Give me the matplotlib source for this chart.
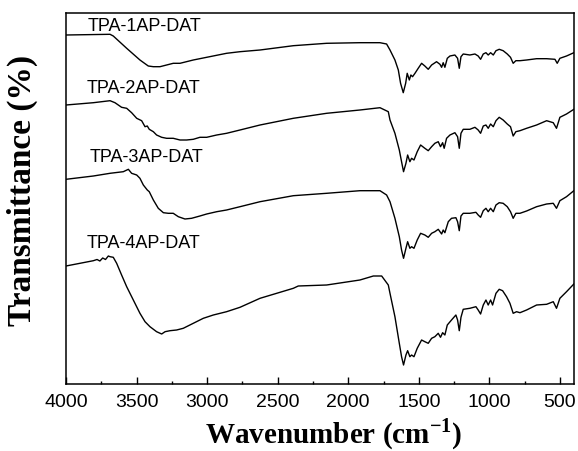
import matplotlib
matplotlib.use("Agg")
import matplotlib.pyplot as plt
from matplotlib.ticker import MultipleLocator

# ---------------- data ----------------
labels = ["TPA-1AP-DAT", "TPA-2AP-DAT", "TPA-3AP-DAT", "TPA-4AP-DAT"]

wn1 = [4000, 3688, 3665, 3570, 3476, 3417, 3381, 3334, 3287, 3240, 3192, 3098, 3003, 2862,
       2767, 2625, 2389, 2153, 1917, 1775, 1728, 1704, 1669, 1645, 1629, 1610, 1593, 1582,
       1567, 1556, 1544, 1527, 1504, 1480, 1457, 1433, 1409, 1374, 1350, 1338, 1327, 1315,
       1298, 1279, 1244, 1225, 1213, 1201, 1185, 1138, 1102, 1079, 1062, 1043, 1024, 1008,
       991, 972, 953, 930, 902, 873, 850, 831, 812, 783, 736, 665, 594, 535, 519, 500, 453, 401]
t1 = [349, 349.7, 348, 335.7, 324, 318, 317.3, 317.3, 319, 320.7, 320.7, 324, 326.7, 330.7,
      332.3, 334, 338.3, 340.7, 341.3, 341.3, 340, 334, 324, 314, 300.7, 291.3, 300.7, 310.7,
      304, 309, 307.3, 310.7, 315.7, 320.7, 318, 314.7, 319, 322.3, 319.7, 316.7, 321.3, 316.7,
      325.7, 328, 329, 325.7, 315.7, 327.3, 330, 329, 330, 328, 324.7, 330, 331.3, 329,
      331.3, 329, 333.3, 334.7, 333.3, 330, 326.7, 320.7, 323.3, 323.3, 324, 325.3, 325.3, 324.7,
      320.7, 325.7, 328, 331.3]

wn2 = [4000, 3806, 3688, 3653, 3606, 3570, 3535, 3499, 3464, 3440, 3424, 3410, 3381, 3358,
       3322, 3287, 3240, 3192, 3145, 3098, 3051, 3003, 2932, 2862, 2767, 2625, 2389, 2153,
       1917, 1775, 1716, 1704, 1669, 1638, 1622, 1608, 1591, 1579, 1563, 1551, 1534, 1511,
       1487, 1457, 1433, 1409, 1386, 1362, 1346, 1331, 1320, 1303, 1279, 1244, 1225, 1213,
       1201, 1185, 1138, 1102, 1079, 1062, 1043, 1024, 1008, 991, 972, 953, 930, 902, 873,
       850, 831, 812, 783, 736, 665, 594, 547, 524, 500, 453, 401]
t2 = [279, 281.3, 283.3, 281.3, 276.7, 275.7, 271.3, 265.7, 263.3, 257.3, 258, 254.7, 252.3, 249,
      246.7, 245.7, 245.7, 244, 244, 244.7, 246.7, 246.7, 249, 250.7, 254, 259, 265.7, 270.7,
      274, 276.3, 272.3, 264, 250.7, 234, 222.3, 212.3, 220.7, 229, 222.3, 225.7, 224, 232.3,
      239, 235.7, 233.3, 237.3, 240.7, 242.3, 237.3, 241.3, 235.7, 245.7, 249, 251.3, 247.3, 235.7,
      250.7, 254.7, 254.7, 256.7, 254, 250.7, 258, 259, 255.7, 260, 257.3, 263.3, 266.7, 264, 260,
      257.3, 248, 252.3, 253.3, 255.7, 259, 263.3, 261.3, 255.7, 266.7, 270, 274.7]

wn3 = [4000, 3806, 3688, 3653, 3594, 3558, 3535, 3499, 3476, 3452, 3424, 3410, 3381, 3346,
       3310, 3275, 3240, 3204, 3157, 3110, 3051, 3003, 2932, 2862, 2767, 2625, 2389, 2153,
       1917, 1775, 1728, 1704, 1669, 1638, 1622, 1608, 1591, 1579, 1563, 1551, 1534, 1511,
       1487, 1457, 1433, 1409, 1386, 1362, 1338, 1327, 1315, 1291, 1268, 1237, 1225, 1213,
       1201, 1185, 1138, 1095, 1079, 1062, 1043, 1024, 1008, 991, 972, 953, 930, 902, 873,
       850, 831, 812, 783, 736, 665, 594, 547, 524, 500, 453, 401]
t3 = [204.7, 208, 210.7, 211.3, 212.3, 214.7, 210.7, 209, 205.7, 199, 194, 192.3, 184, 175.7,
      171.3, 170.7, 170.7, 167.3, 165, 165.7, 168, 170, 172.3, 174, 177.3, 182.3, 188.3, 190.7,
      193.3, 193.3, 189, 182.3, 165.7, 147.3, 134, 125.7, 135.7, 142.3, 135.7, 137.3, 135.7, 144,
      150.7, 149, 146.7, 150.7, 152.3, 154.7, 150, 154, 151.3, 162.3, 165.7, 166.3, 162.3, 153.3,
      168, 170.7, 170.7, 171.7, 169, 166.7, 173.3, 175.7, 172.3, 175.7, 172.3, 179, 181.3, 180.7, 177.3,
      172.3, 165.7, 170.7, 170.7, 173, 177.3, 180, 180.7, 175.7, 183.3, 187.3, 193.3]

wn4 = [4000, 3901, 3806, 3780, 3760, 3740, 3720, 3700, 3688, 3665, 3641, 3606, 3570, 3523,
       3476, 3440, 3405, 3358, 3322, 3298, 3263, 3216, 3169, 3098, 3027, 2956, 2862, 2767,
       2625, 2389, 2354, 2153, 1917, 1822, 1763, 1716, 1704, 1669, 1638, 1622, 1608, 1591,
       1579, 1563, 1551, 1534, 1511, 1480, 1457, 1433, 1409, 1386, 1362, 1346, 1331, 1315,
       1298, 1268, 1237, 1225, 1213, 1201, 1185, 1138, 1095, 1079, 1062, 1043, 1024, 1008,
       991, 977, 953, 930, 906, 878, 854, 831, 807, 783, 736, 665, 594, 547, 524, 500, 453, 401]
t4 = [118, 120.7, 123.3, 124.5, 123, 126, 124.5, 128, 127.3, 126.7, 120.7, 109, 97.3, 84,
      70.7, 62.3, 57.3, 52.3, 50, 52.3, 53.3, 54, 55.7, 60.7, 65.7, 69, 72.3, 76.7,
      85.7, 95.7, 98, 99, 104, 108, 108, 99, 90.7, 67.3, 40.7, 27.3, 19, 29,
      33.3, 27.3, 29, 27.3, 35.7, 44, 42.3, 40.7, 45.7, 47.3, 50.7, 46.7, 51.3, 49,
      59, 64, 69, 64, 53.3, 66.7, 74.7, 75.7, 77.3, 74, 70, 79, 84, 79,
      84, 79, 90.7, 94.7, 93.3, 87.3, 80.7, 70.7, 72.3, 71.3, 74, 79, 79.7, 82.3, 75.7, 85.7, 92.3, 100]

label_wn = [3844, 3851, 3830, 3853]
label_t = [357.5, 295.5, 226, 140.5]

xticks = [4000, 3500, 3000, 2500, 2000, 1500, 1000, 500]

# ---------------- styling ----------------
plt.rcParams['mathtext.fontset'] = 'custom'
plt.rcParams['mathtext.rm'] = 'Liberation Serif:bold'
plt.rcParams['mathtext.bf'] = 'Liberation Serif:bold'

W, H = 578, 451
fig = plt.figure(figsize=(W / 100, H / 100), dpi=100)
ax = fig.add_axes([66 / W, 1 - 384 / H, (574 - 66) / W, (384 - 13) / H])

for wn, t in zip([wn1, wn2, wn3, wn4], [t1, t2, t3, t4]):
    ax.plot(wn, t, color='black', lw=1.0)

for lab, x, y in zip(labels, label_wn, label_t):
    ax.text(x, y, lab, ha='left', va='center', fontsize=13,
            family='Liberation Sans', color='black')

ax.set_xlim(4000, 400)
ax.set_ylim(0, 371)
ax.set_xticks(xticks)
ax.set_xticklabels([str(v) for v in xticks], family='Liberation Sans', fontsize=14)
ax.xaxis.set_minor_locator(MultipleLocator(250))
ax.tick_params(axis='x', which='major', direction='in', length=5, width=1.0, pad=7)
ax.tick_params(axis='x', which='minor', direction='in', length=2.5, width=1.0)
ax.set_yticks([])
for s in ax.spines.values():
    s.set_linewidth(1.1)

fig.text(334 / W, 1 - 434 / H, r'Wavenumber (cm$^{\mathbf{-1}}$)', ha='center', va='center',
         fontsize=21, fontweight='bold', family='Liberation Serif')
fig.text(22 / W, 1 - 190 / H, 'Transmittance (%)', ha='center', va='center', rotation=90,
         fontsize=24, fontweight='bold', family='Liberation Serif')

fig.savefig('out.png', dpi=100)
